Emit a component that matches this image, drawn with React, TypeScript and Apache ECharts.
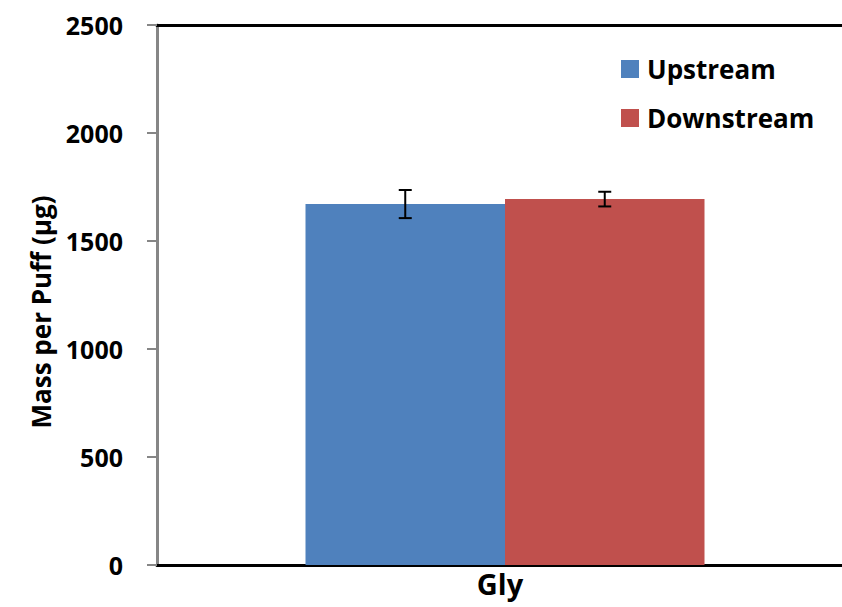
import React, { useEffect, useRef } from "react";
import * as echarts from "echarts";

const categories = ["Gly"];
const seriesNames = ["Upstream", "Downstream"];
const upstreamValues = [1671];
const downstreamValues = [1694];
const upstreamErrors = [65];
const downstreamErrors = [34];
const yTicks = [0, 500, 1000, 1500, 2000, 2500];

const BAR_W = 199.5;
const FONT = "'Open Sans', Lato, 'DejaVu Sans', sans-serif";

function errorSeries(name: string, values: number[], errs: number[], offset: number) {
  return {
    type: "custom",
    name: name + " err",
    z: 10,
    silent: true,
    data: values.map((v, i) => [i, v - errs[i], v + errs[i]]),
    renderItem: (params: any, api: any) => {
      const lo = api.coord([api.value(0), api.value(1)]);
      const hi = api.coord([api.value(0), api.value(2)]);
      const x = lo[0] + offset;
      const cap = 6.5;
      const style = { stroke: "#000", lineWidth: 2 };
      return {
        type: "group",
        children: [
          { type: "line", shape: { x1: x, y1: lo[1], x2: x, y2: hi[1] }, style },
          { type: "line", shape: { x1: x - cap, y1: lo[1], x2: x + cap, y2: lo[1] }, style },
          { type: "line", shape: { x1: x - cap, y1: hi[1], x2: x + cap, y2: hi[1] }, style },
        ],
      };
    },
  };
}

export default function App() {
  const ref = useRef<HTMLDivElement>(null);
  useEffect(() => {
    const chart = echarts.init(ref.current!, null, { renderer: "svg" });
    chart.setOption({
      animation: false,
      backgroundColor: "#fff",
      grid: {
        left: 157,
        right: 0,
        top: 25,
        bottom: 42,
        show: false,
        containLabel: false,
      },
      legend: {
        orient: "vertical",
        left: 616,
        top: 51,
        itemWidth: 18,
        itemHeight: 18,
        itemGap: 23,
        icon: "rect",
        data: seriesNames,
        textStyle: { fontSize: 26, fontWeight: "bold", color: "#000", fontFamily: FONT, padding: [0, 0, 0, 3] },
      },
      xAxis: [
        {
          type: "category",
          data: categories,
          axisLine: { lineStyle: { color: "#000", width: 3 } },
          axisTick: { show: false },
          axisLabel: {
            fontSize: 29,
            fontWeight: "bold",
            color: "#000",
            fontFamily: FONT,
            margin: 4,
            padding: [0, 10, 0, 0],
          },
        },
        {
          type: "category",
          position: "top",
          data: categories,
          axisLine: { show: true, lineStyle: { color: "#000", width: 3 } },
          axisTick: { show: false },
          axisLabel: { show: false },
        },
      ],
      yAxis: {
        type: "value",
        min: 0,
        max: 2500,
        interval: 500,
        name: "Mass per Puff (µg)",
        nameLocation: "middle",
        nameGap: 103,
        nameTextStyle: { fontSize: 26, fontWeight: "bold", color: "#000", fontFamily: FONT, padding: [0, 34, 0, 0] },
        splitLine: { show: false },
        axisLine: { show: true, lineStyle: { color: "#868686", width: 3 } },
        axisTick: { show: true, length: 10, lineStyle: { color: "#868686", width: 2 } },
        axisLabel: {
          fontSize: 25,
          fontWeight: "bold",
          color: "#000",
          fontFamily: FONT,
          margin: 34,
          formatter: (v: number) => (yTicks.includes(v) ? String(v) : ""),
        },
      },
      series: [
        {
          type: "bar",
          name: seriesNames[0],
          data: upstreamValues,
          barWidth: BAR_W,
          barGap: "0%",
          itemStyle: { color: "#4F81BD" },
        },
        {
          type: "bar",
          name: seriesNames[1],
          data: downstreamValues,
          barWidth: BAR_W,
          barGap: "0%",
          itemStyle: { color: "#C0504D" },
        },
        errorSeries(seriesNames[0], upstreamValues, upstreamErrors, -BAR_W / 2),
        errorSeries(seriesNames[1], downstreamValues, downstreamErrors, BAR_W / 2),
      ],
    });
    return () => chart.dispose();
  }, []);
  return <div ref={ref} style={{ width: 853, height: 607, position: "fixed", left: 0, top: 0 }} />;
}
